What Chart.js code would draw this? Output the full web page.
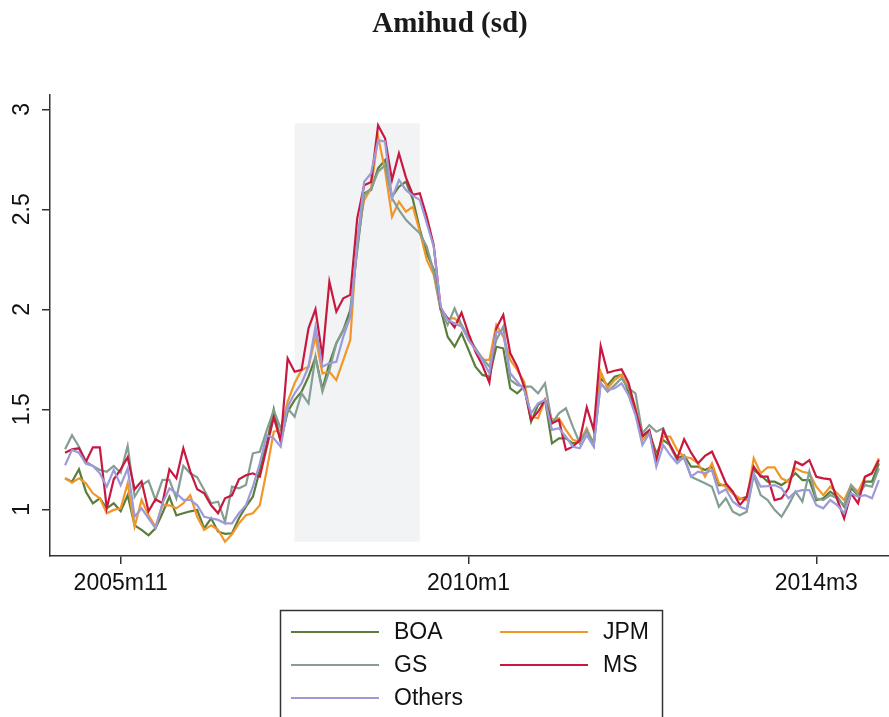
<!DOCTYPE html>
<html>
<head>
<meta charset="utf-8">
<script src="https://cdn.jsdelivr.net/npm/chart.js@4.4.1/dist/chart.umd.min.js"></script>
<style>
  html, body { margin: 0; padding: 0; background: #ffffff; }
  #wrap { position: relative; width: 889px; height: 717px; }
</style>
</head>
<body>
<div id="wrap"><canvas id="c"></canvas></div>
<script>
// ---------- DATA ----------
const chartTitle = 'Amihud (sd)';
const startYear = 2005, startMonth = 3, nMonths = 118;   // 2005m3 .. 2014m12
const months = [];
for (let k = 0; k < nMonths; k++) {
  const m = startMonth - 1 + k;
  months.push((startYear + Math.floor(m / 12)) + 'm' + ((m % 12) + 1));
}
const xTickLabels = ['2005m11', '2010m1', '2014m3'];
const yTicks = [1, 1.5, 2, 2.5, 3];
const recession = ['2007m12', '2009m6'];
const recessionBand = [0.838, 2.93];

const seriesNames = ['BOA', 'JPM', 'GS', 'MS', 'Others'];

const BOA = [
  1.155, 1.138, 1.20, 1.088, 1.03, 1.055, 1.005, 1.03, 0.99, 1.07, 0.92, 0.897, 0.87, 0.905, 0.98, 1.063, 0.97, 0.98, 0.99, 0.997, 0.905, 0.955, 0.888, 0.877, 0.88, 0.955,
  1.013, 1.063, 1.196, 1.33, 1.5, 1.338, 1.488, 1.546, 1.588, 1.663, 1.76, 1.60, 1.73, 1.83, 1.896, 1.996, 2.296, 2.58, 2.597, 2.705, 2.746, 2.563, 2.613, 2.638,
  2.55, 2.40, 2.28, 2.20, 2.0, 1.863, 1.813, 1.88, 1.797, 1.713, 1.672, 1.663, 1.813, 1.805, 1.605, 1.58, 1.613, 1.438, 1.522, 1.547, 1.33, 1.355, 1.355, 1.33, 1.338, 1.396, 1.33,
  1.655, 1.62, 1.663, 1.672, 1.588, 1.496, 1.363, 1.383, 1.28, 1.346, 1.32, 1.255, 1.27, 1.213, 1.213, 1.196, 1.213, 1.121, 1.121,
  1.08, 1.05, 1.063, 1.196, 1.171, 1.138, 1.138, 1.121, 1.146, 1.18, 1.146, 1.146, 1.046, 1.055, 1.088, 1.063, 1.013, 1.105, 1.071, 1.138, 1.138, 1.23
];
const JPM = [
  1.155, 1.133, 1.155, 1.13, 1.08, 1.055, 0.98, 0.997, 1.005, 1.13, 0.913, 1.047, 0.97, 0.913, 1.02, 1.02, 1.005, 1.03, 1.07, 0.963, 0.897, 0.92, 0.897, 0.838, 0.875, 0.93,
  0.97, 0.98, 1.02, 1.196, 1.388, 1.396, 1.538, 1.63, 1.697, 1.713, 1.863, 1.68, 1.688, 1.646, 1.746, 1.846, 2.363, 2.546, 2.605, 2.863, 2.696, 2.463, 2.538, 2.488,
  2.513, 2.388, 2.247, 2.172, 1.997, 1.955, 1.955, 1.922, 1.847, 1.805, 1.747, 1.747, 1.922, 1.863, 1.747, 1.697, 1.638, 1.463, 1.455, 1.547, 1.447, 1.455, 1.397, 1.347, 1.338, 1.405, 1.32,
  1.688, 1.605, 1.646, 1.672, 1.613, 1.513, 1.346, 1.38, 1.255, 1.363, 1.363, 1.296, 1.263, 1.255, 1.23, 1.163, 1.23, 1.13, 1.113,
  1.08, 1.055, 1.046, 1.255, 1.18, 1.21, 1.21, 1.155, 1.138, 1.205, 1.188, 1.18, 1.113, 1.071, 1.113, 1.08, 1.046, 1.121, 1.088, 1.163, 1.18, 1.255
];
const GS = [
  1.30, 1.37, 1.313, 1.238, 1.217, 1.197, 1.188, 1.217, 1.183, 1.317, 1.063, 1.12, 1.143, 1.047, 1.147, 1.147, 1.055, 1.217, 1.18, 1.16, 1.097, 1.03, 1.038, 0.938, 1.113, 1.105,
  1.121, 1.28, 1.288, 1.396, 1.496, 1.405, 1.505, 1.463, 1.58, 1.53, 1.763, 1.588, 1.696, 1.83, 1.896, 1.963, 2.313, 2.571, 2.605, 2.688, 2.721, 2.555, 2.497, 2.447,
  2.413, 2.38, 2.313, 2.188, 1.997, 1.922, 2.005, 1.922, 1.863, 1.805, 1.755, 1.713, 1.847, 1.913, 1.647, 1.622, 1.613, 1.613, 1.58, 1.63, 1.43, 1.48, 1.505, 1.413, 1.33, 1.396, 1.32,
  1.63, 1.588, 1.621, 1.655, 1.605, 1.58, 1.38, 1.421, 1.388, 1.405, 1.313, 1.246, 1.255, 1.163, 1.146, 1.13, 1.113, 1.013, 1.055,
  0.988, 0.97, 0.988, 1.171, 1.071, 1.046, 0.997, 0.963, 1.021, 1.088, 1.038, 1.188, 1.055, 1.046, 1.071, 1.055, 1.021, 1.121, 1.071, 1.121, 1.113, 1.205
];
const MS = [
  1.283, 1.30, 1.305, 1.238, 1.31, 1.31, 1.005, 1.15, 1.20, 1.26, 1.10, 1.14, 0.99, 1.05, 1.03, 1.20, 1.155, 1.305, 1.19, 1.10, 1.08, 1.02, 0.98, 1.055, 1.07, 1.15,
  1.17, 1.18, 1.163, 1.31, 1.46, 1.34, 1.755, 1.688, 1.697, 1.905, 2.0, 1.763, 2.138, 1.988, 2.055, 2.072, 2.455, 2.62, 2.637, 2.92, 2.855, 2.647, 2.78, 2.66,
  2.572, 2.58, 2.463, 2.32, 2.005, 1.955, 1.91, 1.983, 1.88, 1.788, 1.72, 1.633, 1.905, 1.972, 1.78, 1.713, 1.613, 1.447, 1.488, 1.547, 1.43, 1.447, 1.297, 1.313, 1.346, 1.51, 1.396,
  1.816, 1.683, 1.693, 1.70, 1.633, 1.496, 1.366, 1.396, 1.243, 1.396, 1.32, 1.255, 1.35, 1.283, 1.23, 1.267, 1.288, 1.213, 1.13,
  1.088, 1.021, 1.063, 1.213, 1.163, 1.163, 1.046, 1.055, 1.105, 1.238, 1.221, 1.246, 1.163, 1.155, 1.15, 1.05, 0.955, 1.08, 1.03, 1.163, 1.18, 1.246
];
const Others = [
  1.22, 1.297, 1.283, 1.227, 1.217, 1.18, 1.113, 1.197, 1.12, 1.205, 0.963, 1.005, 0.955, 0.905, 1.03, 1.105, 1.08, 1.047, 1.047, 1.02, 0.963, 0.955, 0.947, 0.93, 0.93, 0.98,
  1.02, 1.113, 1.23, 1.371, 1.355, 1.313, 1.513, 1.58, 1.63, 1.713, 1.913, 1.713, 1.73, 1.738, 1.863, 1.963, 2.33, 2.638, 2.68, 2.846, 2.838, 2.555, 2.646, 2.597,
  2.567, 2.547, 2.43, 2.313, 2.013, 1.947, 1.93, 1.913, 1.847, 1.797, 1.747, 1.68, 1.888, 1.88, 1.68, 1.638, 1.597, 1.48, 1.53, 1.547, 1.397, 1.405, 1.363, 1.313, 1.305, 1.371, 1.313,
  1.63, 1.596, 1.605, 1.63, 1.571, 1.471, 1.321, 1.38, 1.213, 1.321, 1.271, 1.23, 1.263, 1.163, 1.188, 1.18, 1.196, 1.08, 1.10,
  1.038, 1.013, 1.0, 1.18, 1.113, 1.116, 1.121, 1.105, 1.055, 1.088, 1.096, 1.096, 1.021, 1.005, 1.046, 1.021, 0.98, 1.08, 1.063, 1.071, 1.055, 1.146
];
const seriesValues = [BOA, JPM, GS, MS, Others];

// ---------- STYLE ----------
const colors = ['#5b7d3b', '#f2962a', '#849e93', '#c8183f', '#9c9ad8'];
const drawOrder = [5, 4, 3, 2, 1]; // lower = drawn on top
const axisColor = '#333333';
const sansFont = '"Liberation Sans", Arial, sans-serif';

const datasets = seriesNames.map((name, s) => ({
  label: name,
  data: seriesValues[s].map((v, i) => ({ x: i, y: v })),
  borderColor: colors[s],
  backgroundColor: colors[s],
  borderWidth: 2.2,
  pointRadius: 0,
  tension: 0,
  fill: false,
  order: drawOrder[s]
}));

const xTickIdx = xTickLabels.map(l => months.indexOf(l));

const recessionPlugin = {
  id: 'recession',
  beforeDatasetsDraw(chart) {
    const { ctx, scales: { x, y } } = chart;
    const x0 = x.getPixelForValue(months.indexOf(recession[0]));
    const x1 = x.getPixelForValue(months.indexOf(recession[1]));
    const y0 = y.getPixelForValue(recessionBand[1]);
    const y1 = y.getPixelForValue(recessionBand[0]);
    ctx.save();
    ctx.fillStyle = '#f2f3f5';
    ctx.fillRect(x0, y0, x1 - x0, y1 - y0);
    ctx.restore();
  }
};

const titleLegendPlugin = {
  id: 'titleLegend',
  afterDraw(chart) {
    const { ctx } = chart;
    ctx.save();
    // title
    ctx.fillStyle = '#1a1a1a';
    ctx.font = 'bold 29px "Liberation Serif", "Times New Roman", serif';
    ctx.textAlign = 'center';
    ctx.textBaseline = 'alphabetic';
    ctx.fillText(chartTitle, 450, 32);
    // legend box
    ctx.strokeStyle = '#333333';
    ctx.lineWidth = 1.5;
    ctx.strokeRect(280.5, 610.5, 382, 140);
    const colX = [291, 500];
    const rowY = [632, 665, 698];
    ctx.font = '23px ' + sansFont;
    ctx.textAlign = 'left';
    ctx.textBaseline = 'middle';
    chart.data.datasets.forEach((ds, k) => {
      const cx = colX[k % 2], cy = rowY[Math.floor(k / 2)];
      ctx.strokeStyle = ds.borderColor;
      ctx.lineWidth = 2.2;
      ctx.beginPath();
      ctx.moveTo(cx, cy);
      ctx.lineTo(cx + 88, cy);
      ctx.stroke();
      ctx.fillStyle = '#111111';
      ctx.fillText(ds.label, cx + 103, cy + 1);
    });
    ctx.restore();
  }
};

new Chart(document.getElementById('c'), {
  type: 'line',
  data: { datasets },
  plugins: [recessionPlugin, titleLegendPlugin],
  options: {
    responsive: true,
    maintainAspectRatio: false,
    animation: false,
    layout: { padding: { top: 95, bottom: 116, left: 0, right: 0 } },
    plugins: { legend: { display: false }, title: { display: false }, tooltip: { enabled: false } },
    scales: {
      x: {
        type: 'linear',
        min: -2.164,
        max: 118.45,
        afterBuildTicks: s => { s.ticks = xTickIdx.map(v => ({ value: v })); },
        afterFit: s => { s.height = 45; },
        grid: { display: true, drawOnChartArea: false, drawTicks: true, tickLength: 8, color: axisColor, lineWidth: 1.5 },
        border: { display: true, color: axisColor, width: 1.5 },
        ticks: {
          autoSkip: false, maxRotation: 0, minRotation: 0, padding: 6,
          color: '#111111', font: { family: sansFont, size: 23 },
          callback: v => months[v] || ''
        }
      },
      y: {
        type: 'linear',
        min: 0.7665,
        max: 3.0715,
        afterBuildTicks: s => { s.ticks = yTicks.map(v => ({ value: v })); },
        afterFit: s => { s.width = 50; },
        grid: { display: true, drawOnChartArea: false, drawTicks: true, tickLength: 8, color: axisColor, lineWidth: 1.5 },
        border: { display: true, color: axisColor, width: 1.5 },
        ticks: {
          autoSkip: false, minRotation: 90, maxRotation: 90, crossAlign: 'center', padding: 3.5,
          color: '#111111', font: { family: sansFont, size: 23 },
          callback: v => String(v)
        }
      }
    }
  }
});
</script>
</body>
</html>
